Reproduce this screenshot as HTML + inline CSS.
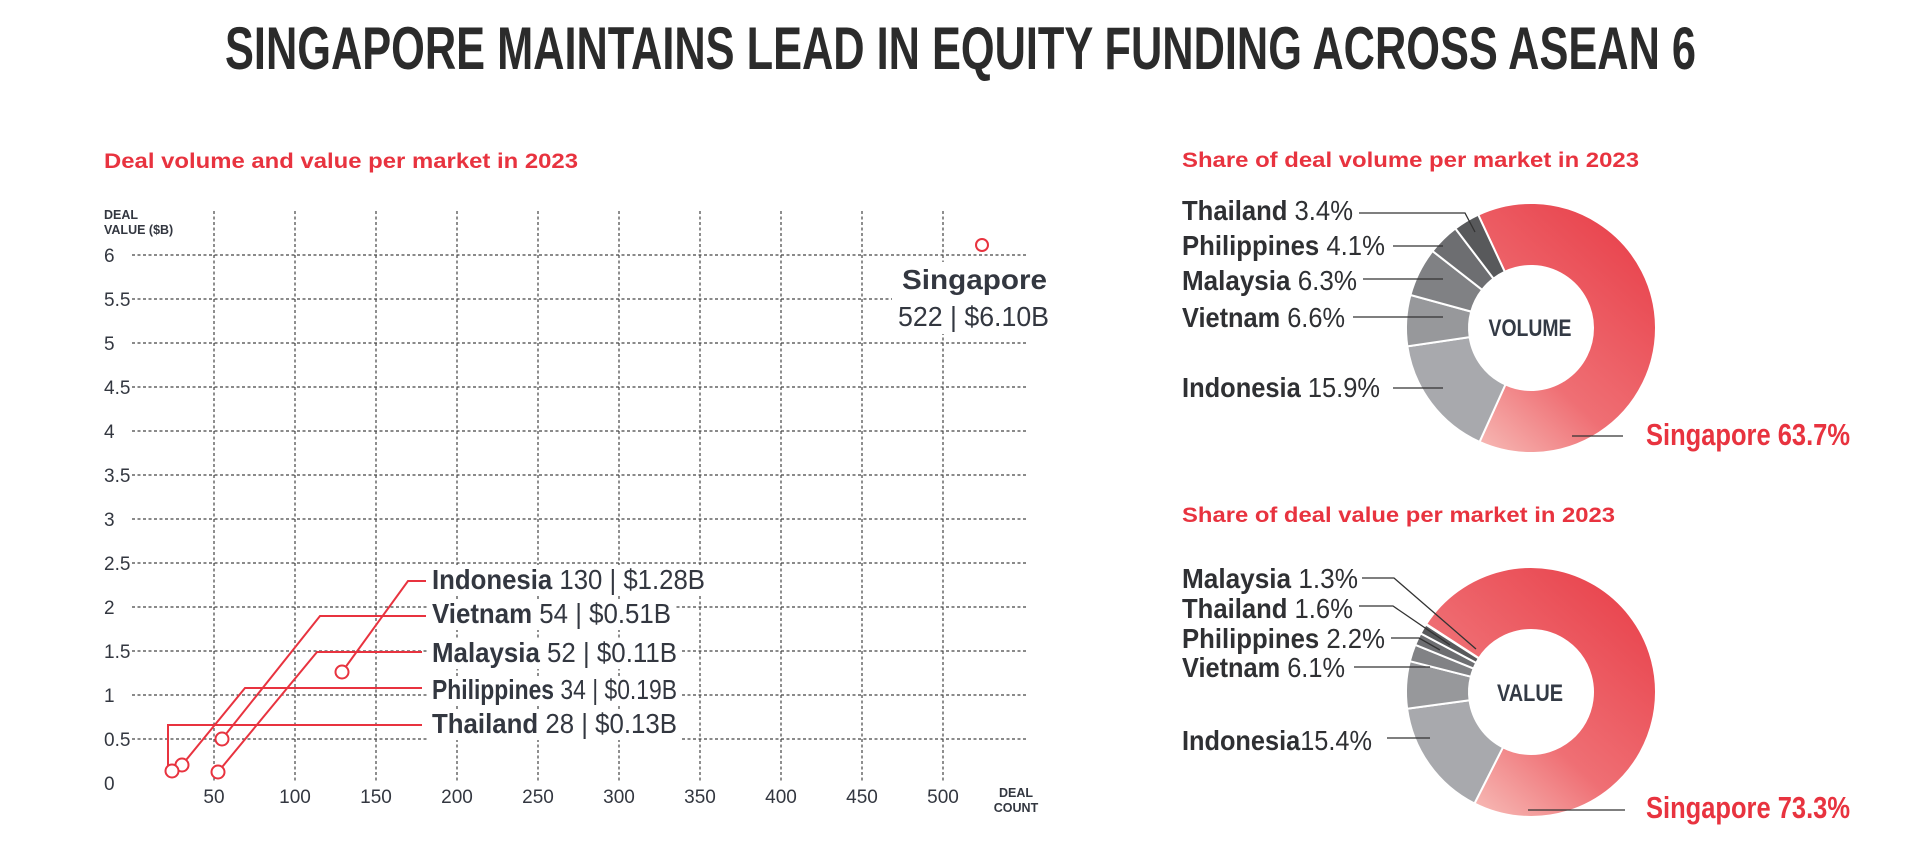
<!DOCTYPE html>
<html><head><meta charset="utf-8"><style>
html,body{margin:0;padding:0;background:#fff;}
svg{display:block;}
text{font-family:"Liberation Sans Narrow","Liberation Sans",sans-serif;}
.b{font-weight:bold;}
</style></head><body>
<svg id="s" width="1920" height="862" viewBox="0 0 1920 862" xmlns="http://www.w3.org/2000/svg">
<defs>
<linearGradient id="g1" gradientUnits="userSpaceOnUse" x1="1650" y1="230" x2="1450" y2="450">
<stop offset="0" stop-color="#e8404a"/><stop offset="0.6" stop-color="#ef6f74"/><stop offset="1" stop-color="#f8c8c2"/></linearGradient>
<linearGradient id="g2" gradientUnits="userSpaceOnUse" x1="1650" y1="590" x2="1450" y2="815">
<stop offset="0" stop-color="#e8404a"/><stop offset="0.6" stop-color="#ef6f74"/><stop offset="1" stop-color="#f8c8c2"/></linearGradient>
</defs>
<rect width="1920" height="862" fill="#fff"/>
<text x="225" y="69" class="b" font-size="60" fill="#2b2b2b" textLength="1471" lengthAdjust="spacingAndGlyphs">SINGAPORE MAINTAINS LEAD IN EQUITY FUNDING ACROSS ASEAN 6</text>

<text x="104" y="168" class="b" font-size="21" fill="#e8333f" textLength="474" lengthAdjust="spacingAndGlyphs" style="font-family:'Liberation Sans',sans-serif">Deal volume and value per market in 2023</text>
<text x="1182" y="167" class="b" font-size="21" fill="#e8333f" textLength="457" lengthAdjust="spacingAndGlyphs" style="font-family:'Liberation Sans',sans-serif">Share of deal volume per market in 2023</text>
<text x="1182" y="522" class="b" font-size="21" fill="#e8333f" textLength="433" lengthAdjust="spacingAndGlyphs" style="font-family:'Liberation Sans',sans-serif">Share of deal value per market in 2023</text>

<g id="grid" stroke="#444" stroke-width="1.2" stroke-dasharray="3,2.5" fill="none"></g>
<g id="ylab" font-size="19" fill="#333740"></g>
<text x="104" y="219" class="b" font-size="12.5" fill="#333740">DEAL</text>
<text x="104" y="234" class="b" font-size="12.5" fill="#333740">VALUE ($B)</text>
<text x="1016" y="797" class="b" font-size="12.5" fill="#333740" text-anchor="middle">DEAL</text>
<text x="1016" y="812" class="b" font-size="12.5" fill="#333740" text-anchor="middle">COUNT</text>

<g fill="#fff">
<rect x="428" y="565" width="282" height="30"/>
<rect x="428" y="600" width="248" height="30"/>
<rect x="428" y="639" width="254" height="30"/>
<rect x="428" y="676" width="254" height="30"/>
<rect x="428" y="710" width="254" height="30"/>
<rect x="892" y="262" width="164" height="72"/>
</g>

<g stroke="#e8333f" stroke-width="2" fill="none">
<polyline points="342,672 408,581 426,581"/>
<polyline points="222,739 320,616 426,616"/>
<polyline points="218,772 317,652 422,652"/>
<polyline points="182,765 245,688 422,688"/>
<polyline points="168,770 168,725 422,725"/>
</g>
<g stroke="#e8333f" stroke-width="2" fill="#fff">
<circle cx="342" cy="672" r="6.5"/><circle cx="222" cy="739" r="6.5"/><circle cx="218" cy="772" r="6.5"/>
<circle cx="182" cy="765" r="6.5"/><circle cx="172" cy="771" r="6.5"/><circle cx="982" cy="245" r="6"/>
</g>
<g font-size="28" fill="#333740">
<text x="432" y="589" textLength="273" lengthAdjust="spacingAndGlyphs"><tspan class="b">Indonesia</tspan> 130 | $1.28B</text>
<text x="432" y="623" textLength="239" lengthAdjust="spacingAndGlyphs"><tspan class="b">Vietnam</tspan> 54 | $0.51B</text>
<text x="432" y="662" textLength="245" lengthAdjust="spacingAndGlyphs"><tspan class="b">Malaysia</tspan> 52 | $0.11B</text>
<text x="432" y="699" textLength="245" lengthAdjust="spacingAndGlyphs"><tspan class="b">Philippines</tspan> 34 | $0.19B</text>
<text x="432" y="733" textLength="245" lengthAdjust="spacingAndGlyphs"><tspan class="b">Thailand</tspan> 28 | $0.13B</text>
<text x="902" y="289" class="b" textLength="145" lengthAdjust="spacingAndGlyphs">Singapore</text>
<text x="898" y="326" textLength="151" lengthAdjust="spacingAndGlyphs">522 | $6.10B</text>
</g>

<g id="d1"></g><g id="d2"></g>
<circle cx="1531" cy="328" r="62" fill="#fff"/>
<circle cx="1531" cy="692" r="62" fill="#fff"/>
<text x="1530" y="336" class="b" font-size="24" fill="#333a45" text-anchor="middle" textLength="83" lengthAdjust="spacingAndGlyphs">VOLUME</text>
<text x="1530" y="701" class="b" font-size="24" fill="#333a45" text-anchor="middle" textLength="66" lengthAdjust="spacingAndGlyphs">VALUE</text>

<g stroke="#333" stroke-width="1.3" fill="none">
<polyline points="1359,213 1465,213 1475,232"/>
<line x1="1393" y1="246" x2="1443" y2="246"/>
<line x1="1363" y1="279" x2="1443" y2="279"/>
<line x1="1353" y1="317" x2="1443" y2="317"/>
<line x1="1393" y1="388" x2="1443" y2="388"/>
<line x1="1572" y1="436" x2="1623" y2="436"/>
<polyline points="1362,578 1394,578 1476,649"/>
<polyline points="1359,606 1393,606 1450,645"/>
<polyline points="1391,638 1419,638 1440,650"/>
<line x1="1354" y1="667" x2="1430" y2="667"/>
<line x1="1387" y1="738" x2="1430" y2="738"/>
<line x1="1528" y1="810" x2="1625" y2="810"/>
</g>
<g font-size="28" fill="#2f3033">
<text x="1182" y="220" textLength="171" lengthAdjust="spacingAndGlyphs"><tspan class="b">Thailand</tspan> 3.4%</text>
<text x="1182" y="255" textLength="203" lengthAdjust="spacingAndGlyphs"><tspan class="b">Philippines</tspan> 4.1%</text>
<text x="1182" y="290" textLength="175" lengthAdjust="spacingAndGlyphs"><tspan class="b">Malaysia</tspan> 6.3%</text>
<text x="1182" y="327" textLength="163" lengthAdjust="spacingAndGlyphs"><tspan class="b">Vietnam</tspan> 6.6%</text>
<text x="1182" y="397" textLength="198" lengthAdjust="spacingAndGlyphs"><tspan class="b">Indonesia</tspan> 15.9%</text>
<text x="1182" y="588" textLength="176" lengthAdjust="spacingAndGlyphs"><tspan class="b">Malaysia</tspan> 1.3%</text>
<text x="1182" y="618" textLength="171" lengthAdjust="spacingAndGlyphs"><tspan class="b">Thailand</tspan> 1.6%</text>
<text x="1182" y="648" textLength="203" lengthAdjust="spacingAndGlyphs"><tspan class="b">Philippines</tspan> 2.2%</text>
<text x="1182" y="677" textLength="163" lengthAdjust="spacingAndGlyphs"><tspan class="b">Vietnam</tspan> 6.1%</text>
<text x="1182" y="750" textLength="190" lengthAdjust="spacingAndGlyphs"><tspan class="b">Indonesia</tspan>15.4%</text>
</g>
<text x="1646" y="445" class="b" font-size="31" fill="#e8333f" textLength="204" lengthAdjust="spacingAndGlyphs">Singapore 63.7%</text>
<text x="1646" y="818" class="b" font-size="31" fill="#e8333f" textLength="204" lengthAdjust="spacingAndGlyphs">Singapore 73.3%</text>
</svg>
<script>
var NS="http://www.w3.org/2000/svg";
function el(p,t,a,txt){var e=document.createElementNS(NS,t);for(var k in a)e.setAttribute(k,a[k]);if(txt!=null)e.textContent=txt;p.appendChild(e);return e;}
var g=document.getElementById("grid"),yl=document.getElementById("ylab");
for(var i=0;i<=12;i++){var y=783-i*44;var v=i/2;
 if(i>0)el(g,"line",{x1:132,y1:y,x2:1026,y2:y});
 el(yl,"text",{x:104,y:y+7},String(v));}
for(var k=0;k<10;k++){var x=214+k*81;el(g,"line",{x1:x,y1:211,x2:x,y2:783});
 el(yl,"text",{x:x,y:803,"text-anchor":"middle"},String(50+k*50));}
function arc(cx,cy,R,r,a0,a1){function p(rad,a){a=(a-90)*Math.PI/180;return [cx+rad*Math.cos(a),cy+rad*Math.sin(a)];}
 var l=(a1-a0)>180?1:0,A=p(R,a0),B=p(R,a1),C=p(r,a1),D=p(r,a0);
 return "M"+A+"A"+R+","+R+" 0 "+l+" 1 "+B+"L"+C+"A"+r+","+r+" 0 "+l+" 0 "+D+"Z";}
function donut(id,cx,cy,start,sl){var p=document.getElementById(id),a=start;
 sl.forEach(function(s){var a1=a+s[0]*3.6;el(p,"path",{d:arc(cx,cy,125,62,a,a1),fill:s[1],stroke:"#fff","stroke-width":2});a=a1;});}
donut("d1",1531,328,-25,[[63.7,"url(#g1)"],[15.9,"#a8a9ad"],[6.6,"#97989b"],[6.3,"#808184"],[4.1,"#6d6e71"],[3.4,"#58595b"]]);
donut("d2",1531,692,-57,[[73.3,"url(#g2)"],[15.4,"#a8a9ad"],[6.1,"#97989b"],[2.2,"#818285"],[1.6,"#6d6e71"],[1.3,"#58595b"]]);
</script>
</body></html>
